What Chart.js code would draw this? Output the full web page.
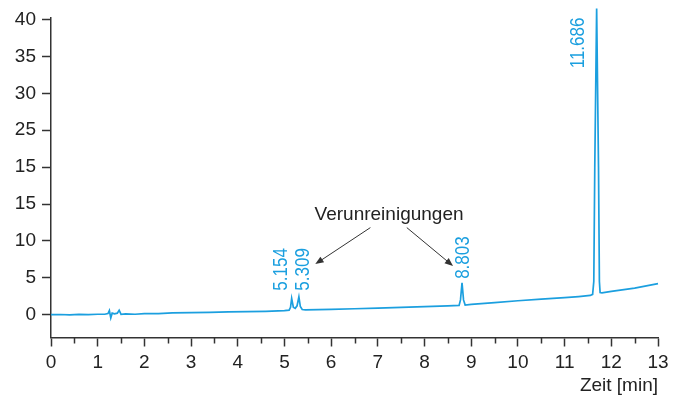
<!DOCTYPE html>
<html lang="de">
<head>
<meta charset="utf-8">
<title>Chromatogramm</title>
<script src="https://cdn.jsdelivr.net/npm/chart.js@4/dist/chart.umd.min.js"></script>
<style>
  html, body { margin: 0; padding: 0; background: #ffffff; }
  #wrap { width: 675px; height: 397px; }
</style>
</head>
<body>
<div id="wrap"><canvas id="chrom" width="675" height="397"></canvas></div>
<script>
// Retention time (min) and detector signal of the trace
const timeMin = [
  0.00, 0.20, 0.40, 0.60, 0.80, 1.00, 1.15, 1.22, 1.25, 1.28, 1.31, 1.36, 1.42, 1.46, 1.50, 1.60, 1.80,
  2.00, 2.30, 2.60, 3.00, 3.40, 3.80, 4.20, 4.60, 5.00,
  5.10, 5.13, 5.154, 5.19, 5.23, 5.27, 5.309, 5.34, 5.38, 5.45,
  6.00, 6.50, 7.00, 7.50, 8.00, 8.50, 8.74, 8.77, 8.803, 8.835, 8.87,
  9.00, 9.50, 10.00, 10.50, 11.00, 11.30, 11.55, 11.60, 11.625, 11.646, 11.686, 11.726, 11.745, 11.76, 11.80,
  12.00, 12.50, 13.00
];
const signal = [
  0.00, 0.02, -0.02, 0.03, 0.00, 0.05, 0.05, 0.15, 0.55, -0.45, 0.20, 0.10, 0.20, 0.60, 0.05, 0.10, 0.05,
  0.15, 0.15, 0.25, 0.28, 0.32, 0.38, 0.40, 0.45, 0.55,
  0.60, 1.00, 2.20, 1.00, 0.85, 1.20, 2.40, 1.10, 0.70, 0.65,
  0.72, 0.80, 0.88, 0.98, 1.08, 1.20, 1.25, 2.00, 4.30, 2.00, 1.30,
  1.38, 1.62, 1.88, 2.10, 2.30, 2.45, 2.60, 2.75, 4.5, 20.0, 41.5, 20.0, 4.5, 3.00, 2.95,
  3.15, 3.60, 4.20
];

// Axis ticks and their printed labels
const xTickValues = [0, 1, 2, 3, 4, 5, 6, 7, 8, 9, 10, 11, 12, 13];
const xTickLabels = ['0', '1', '2', '3', '4', '5', '6', '7', '8', '9', '10', '11', '12', '13'];
const xMinorTicks = [0.5, 1.5, 2.5, 3.5, 4.5, 5.5, 6.5, 7.5, 8.5, 9.5, 10.5, 11.5, 12.5];
const yTickValues = [0, 5, 10, 15, 20, 25, 30, 35, 40];
const yTickLabels = ['0', '5', '10', '15', '15', '25', '30', '35', '40'];

// Peak retention times and their labels
const peakTimes = [5.154, 5.309, 8.803, 11.686];
const peakLabels = ['5.154', '5.309', '8.803', '11.686'];

const annotationText = 'Verunreinigungen';
const xAxisTitle = 'Zeit [min]';

const TRACE = '#1b9fdf';
const AXIS = '#333333';
const TEXT = '#222222';
const FONT = "'Liberation Sans', Arial, sans-serif";

const points = timeMin.map((t, i) => ({ x: t, y: signal[i] }));

// Minor ticks on the time axis, peak labels and the impurity callout
const decorations = {
  id: 'decorations',
  afterDraw(chart) {
    const { ctx, scales: { x, y } } = chart;
    ctx.save();

    // half-minute ticks
    ctx.strokeStyle = AXIS;
    ctx.lineWidth = 1.5;
    const base = chart.chartArea.bottom;
    xMinorTicks.forEach(v => {
      const px = Math.round(x.getPixelForValue(v)) + 0.5;
      ctx.beginPath();
      ctx.moveTo(px, base);
      ctx.lineTo(px, base + 6);
      ctx.stroke();
    });

    // vertical retention-time labels, set in a condensed cut
    const labelPlace = [
      { dx: -10, y: 3.25 },
      { dx: 5, y: 3.25 },
      { dx: 1, y: 4.85 },
      { dx: -18, y: 33.4 }
    ];
    ctx.fillStyle = TRACE;
    ctx.font = '20px ' + FONT;
    ctx.textAlign = 'left';
    ctx.textBaseline = 'middle';
    peakTimes.forEach((t, i) => {
      const px = x.getPixelForValue(t) + labelPlace[i].dx;
      const py = y.getPixelForValue(labelPlace[i].y);
      ctx.save();
      ctx.translate(px, py);
      ctx.rotate(-Math.PI / 2);
      ctx.scale(0.85, 1);
      ctx.fillText(peakLabels[i], 0, 0);
      ctx.restore();
    });

    // callout text with two arrows
    ctx.fillStyle = TEXT;
    ctx.font = '19px ' + FONT;
    ctx.textAlign = 'center';
    ctx.textBaseline = 'middle';
    ctx.fillText(annotationText, x.getPixelForValue(7.24), y.getPixelForValue(13.6));

    const arrows = [
      { from: [6.84, 11.8], to: [5.66, 6.85] },
      { from: [7.62, 11.8], to: [8.61, 6.6] }
    ];
    ctx.strokeStyle = AXIS;
    ctx.fillStyle = AXIS;
    ctx.lineWidth = 1;
    arrows.forEach(a => {
      const x1 = x.getPixelForValue(a.from[0]), y1 = y.getPixelForValue(a.from[1]);
      const x2 = x.getPixelForValue(a.to[0]), y2 = y.getPixelForValue(a.to[1]);
      const ang = Math.atan2(y2 - y1, x2 - x1);
      const head = 9, half = 0.38;
      ctx.beginPath();
      ctx.moveTo(x1, y1);
      ctx.lineTo(x2 - Math.cos(ang) * head * 0.8, y2 - Math.sin(ang) * head * 0.8);
      ctx.stroke();
      ctx.beginPath();
      ctx.moveTo(x2, y2);
      ctx.lineTo(x2 - head * Math.cos(ang - half), y2 - head * Math.sin(ang - half));
      ctx.lineTo(x2 - head * Math.cos(ang + half), y2 - head * Math.sin(ang + half));
      ctx.closePath();
      ctx.fill();
    });

    ctx.restore();
  }
};

new Chart(document.getElementById('chrom'), {
  type: 'line',
  data: {
    datasets: [{
      data: points,
      borderColor: TRACE,
      borderWidth: 1.7,
      pointRadius: 0,
      tension: 0,
      fill: false,
      clip: false
    }]
  },
  options: {
    responsive: false,
    devicePixelRatio: 1,
    animation: false,
    layout: { padding: { top: 15.8, right: 17, left: 0, bottom: 0 } },
    plugins: {
      legend: { display: false },
      tooltip: { enabled: false }
    },
    scales: {
      x: {
        type: 'linear',
        min: 0,
        max: 13,
        afterBuildTicks: s => { s.ticks = xTickValues.map(v => ({ value: v })); },
        afterFit: s => { s.height = 59.5; },
        ticks: {
          callback: (v, i) => xTickLabels[i],
          color: TEXT,
          font: { family: FONT, size: 19 },
          maxRotation: 0,
          autoSkip: false,
          padding: 5
        },
        grid: {
          drawOnChartArea: false,
          drawTicks: true,
          tickLength: 9,
          tickColor: AXIS,
          tickWidth: 1.5
        },
        border: { display: true, color: AXIS, width: 1.5 },
        title: {
          display: true,
          text: xAxisTitle,
          align: 'end',
          color: TEXT,
          font: { family: FONT, size: 19 },
          padding: { top: 0, bottom: 0 }
        }
      },
      y: {
        min: -3.1,
        max: 40.3,
        afterBuildTicks: s => { s.ticks = yTickValues.map(v => ({ value: v })); },
        afterFit: s => { s.width = 51; },
        ticks: {
          callback: (v, i) => yTickLabels[i],
          color: TEXT,
          font: { family: FONT, size: 19 },
          padding: 6,
          autoSkip: false
        },
        grid: {
          drawOnChartArea: false,
          drawTicks: true,
          tickLength: 9,
          tickColor: AXIS,
          tickWidth: 1.5
        },
        border: { display: true, color: AXIS, width: 1.5 }
      }
    }
  },
  plugins: [decorations]
});
</script>
</body>
</html>
